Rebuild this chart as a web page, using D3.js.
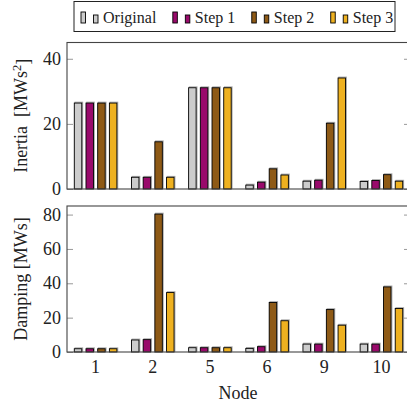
<!DOCTYPE html>
<html>
<head>
<meta charset="utf-8">
<script src="https://cdn.jsdelivr.net/npm/d3@7"></script>
<style>
  body { margin: 0; background: #fff; }
  svg text { font-family: "Liberation Serif", "Times New Roman", serif; }
</style>
</head>
<body>
<svg id="chart"></svg>
<script>
// Data
var nodes = ["1", "2", "5", "6", "9", "10"];
var series = ["Original", "Step 1", "Step 2", "Step 3"];
var colors = ["#cccccc", "#990a6b", "#8e5a16", "#eeb120"];

var inertiaOriginal = [26.4, 3.6, 31.1, 1.2, 2.4, 2.3];
var inertiaStep1    = [26.4, 3.6, 31.1, 2.1, 2.7, 2.6];
var inertiaStep2    = [26.4, 14.5, 31.1, 6.2, 20.2, 4.4];
var inertiaStep3    = [26.4, 3.6, 31.1, 4.3, 34.1, 2.4];

var dampingOriginal = [1.9, 7.0, 2.5, 2.1, 4.6, 4.6];
var dampingStep1    = [1.9, 7.2, 2.5, 3.1, 4.6, 4.6];
var dampingStep2    = [1.9, 80.3, 2.5, 28.8, 24.7, 37.9];
var dampingStep3    = [1.9, 34.6, 2.5, 18.2, 15.6, 25.3];

var inertiaTicks = [0, 20, 40];
var dampingTicks = [0, 20, 40, 60, 80];

var width = 407, height = 408;
var left = 67, right = 410;

var svg = d3.select("#chart")
  .attr("width", width)
  .attr("height", height);

// Group and bar scales shared by both panels
var x0 = d3.scaleBand()
  .domain(nodes)
  .range([left, right])
  .padding(0);

var x1 = d3.scaleBand()
  .domain(series)
  .range([-23.4, 23.4])
  .paddingInner(0.36)
  .paddingOuter(0.18);

var panels = [
  { top: 42.5, bottom: 189, max: 45, ticks: inertiaTicks,
    values: [inertiaOriginal, inertiaStep1, inertiaStep2, inertiaStep3],
    label: ["Inertia  [MWs", "2", "]"] },
  { top: 206, bottom: 352, max: 85, ticks: dampingTicks,
    values: [dampingOriginal, dampingStep1, dampingStep2, dampingStep3],
    label: ["Damping [MWs]"] }
];

panels.forEach(function(p) {
  var y = d3.scaleLinear()
    .domain([0, p.max])
    .range([p.bottom, p.top]);

  var g = svg.append("g");

  // Bars
  var rows = [];
  nodes.forEach(function(n, i) {
    series.forEach(function(s, j) {
      rows.push({ node: n, series: s, value: p.values[j][i], color: colors[j] });
    });
  });

  g.selectAll(".shadow")
    .data(rows)
    .enter()
    .append("rect")
    .attr("class", "shadow")
    .attr("x", function(d) { return x0(d.node) + x0.bandwidth() / 2 + x1(d.series) + 0.8; })
    .attr("y", function(d) { return y(d.value) - 0.8; })
    .attr("width", x1.bandwidth())
    .attr("height", function(d) { return p.bottom - y(d.value); })
    .style("fill", "none")
    .style("stroke", "#aaa")
    .style("stroke-width", 1.2);

  g.selectAll(".bar")
    .data(rows)
    .enter()
    .append("rect")
    .attr("class", "bar")
    .attr("x", function(d) { return x0(d.node) + x0.bandwidth() / 2 + x1(d.series); })
    .attr("y", function(d) { return y(d.value); })
    .attr("width", x1.bandwidth())
    .attr("height", function(d) { return p.bottom - y(d.value); })
    .style("fill", function(d) { return d.color; })
    .style("stroke", "#000")
    .style("stroke-width", 0.9);

  // Ticks inside the frame, left and right
  g.append("g")
    .attr("transform", "translate(" + left + ",0)")
    .call(d3.axisRight(y).tickValues(p.ticks).tickSize(6).tickFormat(""))
    .call(function(a) { a.select(".domain").remove(); })
    .selectAll("line").style("stroke", "#999");

  g.append("g")
    .attr("transform", "translate(" + right + ",0)")
    .call(d3.axisLeft(y).tickValues(p.ticks).tickSize(6).tickFormat(""))
    .call(function(a) { a.select(".domain").remove(); })
    .selectAll("line").style("stroke", "#999");

  // Tick labels
  g.selectAll(".ylab")
    .data(p.ticks)
    .enter()
    .append("text")
    .attr("x", 61)
    .attr("y", function(d) { return y(d); })
    .attr("dy", "0.34em")
    .attr("text-anchor", "end")
    .style("font-size", "18px")
    .style("fill", "#222")
    .text(function(d) { return d; });

  // Frame
  g.append("rect")
    .attr("x", left)
    .attr("y", p.top)
    .attr("width", right - left)
    .attr("height", p.bottom - p.top)
    .style("fill", "none")
    .style("stroke", "#444")
    .style("stroke-width", 1.1);

  // Axis title
  var t = g.append("text")
    .attr("transform", "translate(27," + (p.top + p.bottom) / 2 + ") rotate(-90)")
    .attr("text-anchor", "middle")
    .style("font-size", "18px")
    .style("white-space", "pre")
    .style("fill", "#222");
  t.append("tspan").text(p.label[0]);
  if (p.label.length > 1) {
    t.append("tspan").attr("dy", "-0.45em").style("font-size", "12.5px").text(p.label[1]);
    t.append("tspan").attr("dy", "0.45em").text(p.label[2]);
  }
});

// Node labels under the lower panel
svg.selectAll(".xlab")
  .data(nodes)
  .enter()
  .append("text")
  .attr("x", function(d) { return x0(d) + x0.bandwidth() / 2; })
  .attr("y", 373)
  .attr("text-anchor", "middle")
  .style("font-size", "18px")
  .style("fill", "#222")
  .text(function(d) { return d; });

svg.append("text")
  .attr("x", 238)
  .attr("y", 399)
  .attr("text-anchor", "middle")
  .style("font-size", "18px")
  .style("fill", "#222")
  .text("Node");

// Legend
var legend = svg.append("g");
legend.append("rect")
  .attr("x", 74)
  .attr("y", 1.5)
  .attr("width", 321)
  .attr("height", 30)
  .style("fill", "#fff")
  .style("stroke", "#222")
  .style("stroke-width", 1);

var lx = 81;
series.forEach(function(s, j) {
  var item = legend.append("g");
  item.append("rect")
    .attr("x", lx).attr("y", 12).attr("width", 4.5).attr("height", 11)
    .style("fill", colors[j]).style("stroke", "#000").style("stroke-width", 0.9);
  item.append("rect")
    .attr("x", lx + 12.5).attr("y", 15).attr("width", 4.5).attr("height", 8)
    .style("fill", colors[j]).style("stroke", "#000").style("stroke-width", 0.9);
  var txt = item.append("text")
    .attr("x", lx + 22)
    .attr("y", 22.5)
    .style("font-size", "16px")
    .style("fill", "#222")
    .text(s);
  lx = lx + 22 + txt.node().getComputedTextLength() + 16.5;
});
</script>
</body>
</html>
